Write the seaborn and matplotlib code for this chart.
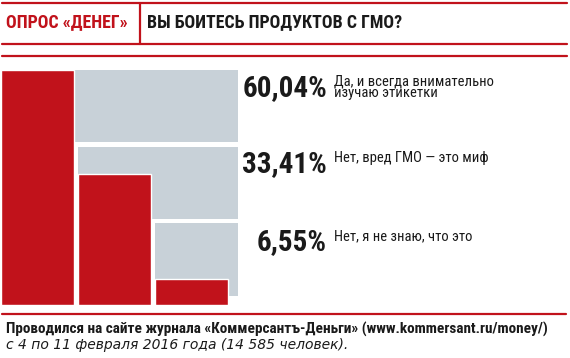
import matplotlib
matplotlib.use("Agg")
import matplotlib.pyplot as plt
import matplotlib.transforms as mtransforms
from matplotlib.patches import Rectangle
import pandas as pd
import seaborn as sns

# данные опроса
answers = ["Да, и всегда внимательно\nизучаю этикетки",
           "Нет, вред ГМО — это миф",
           "Нет, я не знаю, что это"]
shares = [60.04, 33.41, 6.55]

header_left = "ОПРОС «ДЕНЕГ»"
header_title = "ВЫ БОИТЕСЬ ПРОДУКТОВ С ГМО?"
footer_1 = "Проводился на сайте журнала «Коммерсантъ-Деньги» (www.kommersant.ru/money/)"
footer_2 = "с 4 по 11 февраля 2016 года (14 585 человек)."

RED = "#c1121b"
GREY = "#c8d1d8"
INK = "#1a1a1a"

sns.set_theme(style="white")
plt.rcParams["font.family"] = ["Roboto Condensed", "DejaVu Sans"]

W, H = 570, 358
fig = plt.figure(figsize=(W / 100, H / 100), dpi=100)
fig.patch.set_facecolor("white")


def fx(px):
    return px / W


def fy(py):
    return 1 - py / H


# шапка
for py in (2.5, 44, 55.5):
    fig.add_artist(plt.Line2D([fx(2), fx(567)], [fy(py), fy(py)], color=RED, lw=1.6))
fig.add_artist(plt.Line2D([fx(140), fx(140)], [fy(2.5), fy(44)], color=RED, lw=1.6))
fig.text(fx(6), fy(27.5), header_left, color=RED, fontsize=12.9, fontweight="bold", va="baseline")
fig.text(fx(147), fy(27.5), header_title, color=INK, fontsize=12.9, fontweight="bold", va="baseline")

# столбцы
bar_w = 73 / 77
ax = fig.add_axes([0, (H - 305) / H, 238 / W, 235 / H])
df = pd.DataFrame({"answer": answers, "share": shares})
sns.barplot(data=df, x="answer", y="share", width=bar_w, color=RED,
            saturation=1, ax=ax, zorder=3)
ax.set_xlim(-bar_w / 2 - 1 / 77, 237 / 77 - bar_w / 2)
ax.set_ylim(0, max(shares))
ax.axis("off")

trans = mtransforms.blended_transform_factory(ax.transData, ax.transAxes)
bands = [(0.694, 1.0), (0.366, 0.672), (0.038, 0.349)]
x_right = 237 / 77 - bar_w / 2
for i, (y0, y1) in enumerate(bands):
    ax.add_patch(Rectangle((i - bar_w / 2, y0), x_right - (i - bar_w / 2), y1 - y0,
                           transform=trans, color=GREY, lw=0, zorder=1))

# подписи
pct_base = [96, 172, 250]
for share, answer, yb in zip(shares, answers, pct_base):
    fig.text(fx(327), fy(yb), f"{share:.2f}%".replace(".", ","), ha="right",
             va="baseline", fontsize=21, fontweight="bold", color=INK)
    # baseline у многострочного текста — по последней строке
    extra = answer.count("\n") * 10.8
    fig.text(fx(334), fy(yb - 10 + extra), answer, ha="left", va="baseline",
             fontsize=10.5, color=INK, linespacing=0.8)

# подвал
fig.add_artist(plt.Line2D([fx(2), fx(566)], [fy(314), fy(314)], color=RED, lw=1.6))
fig.text(fx(6), fy(334), footer_1, fontsize=11, fontweight="bold", color=INK, va="baseline")
fig.text(fx(6), fy(349), footer_2, fontsize=10, style="italic", color=INK, va="baseline",
         family=["DejaVu Sans"])

fig.savefig("out.png", dpi=100, facecolor="white")
